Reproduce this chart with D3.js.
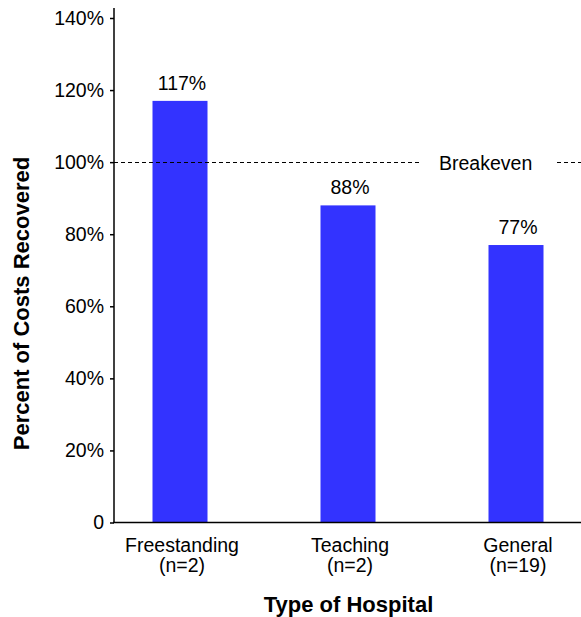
<!DOCTYPE html>
<html>
<head>
<meta charset="utf-8">
<script src="https://cdn.jsdelivr.net/npm/d3@7"></script>
<style>
  html, body { margin: 0; padding: 0; background: #fff; }
  svg { display: block; font-family: "Liberation Sans", Arial, Helvetica, sans-serif; }
</style>
</head>
<body>
<svg id="chart" width="581" height="617"></svg>
<script>
// Cost recovery by hospital type
const categories = ["Freestanding", "Teaching", "General"];
const sampleSizes = ["(n=2)", "(n=2)", "(n=19)"];
const percentRecovered = [117, 88, 77];
const yTicks = [0, 20, 40, 60, 80, 100, 120, 140];
const breakevenValue = 100;

const svg = d3.select("#chart");
const W = 581, H = 617;
const plotLeft = 114, plotBottom = 522.5, plotTop = 18;

const y = d3.scaleLinear().domain([0, 140]).range([plotBottom, plotTop]);
const x = d3.scaleBand().domain(categories).range([96, 600]).padding(0);
const barW = 55;
const cx = d => x(d) + x.bandwidth() / 2;

// bars
svg.append("g").selectAll("rect")
  .data(categories)
  .join("rect")
  .attr("x", d => cx(d) - barW / 2)
  .attr("y", (d, i) => y(percentRecovered[i]))
  .attr("width", barW)
  .attr("height", (d, i) => plotBottom - y(percentRecovered[i]))
  .attr("fill", "#3333ff");

// value labels
svg.append("g").selectAll("text")
  .data(categories)
  .join("text")
  .attr("x", d => cx(d) + 2)
  .attr("y", (d, i) => y(percentRecovered[i]) - 11)
  .attr("text-anchor", "middle")
  .attr("font-size", "19.5px")
  .attr("fill", "#000")
  .text((d, i) => percentRecovered[i] + "%");

// breakeven reference line, broken around its label
const by = Math.round(y(breakevenValue)) + 0.5;
const dashSegs = [[plotLeft, 420], [557, W]];
svg.append("g").selectAll("line")
  .data(dashSegs)
  .join("line")
  .attr("x1", d => d[0]).attr("x2", d => d[1])
  .attr("y1", by).attr("y2", by)
  .attr("stroke", "#000")
  .attr("stroke-width", 1)
  .attr("stroke-dasharray", "4,3");
svg.append("text")
  .attr("x", 439)
  .attr("y", by + 7)
  .attr("font-size", "19.5px")
  .attr("fill", "#000")
  .text("Breakeven");

// y axis
const yAxis = d3.axisLeft(y)
  .tickValues(yTicks)
  .tickSize(4)
  .tickSizeOuter(0)
  .tickPadding(6)
  .tickFormat(d => d === 0 ? "0" : d + "%");
const gy = svg.append("g")
  .attr("transform", `translate(${plotLeft},0)`)
  .call(yAxis);
gy.select(".domain").remove();
gy.selectAll(".tick line").attr("stroke", "#000").attr("stroke-width", 1.5);
gy.selectAll(".tick text")
  .attr("font-size", "19.5px")
  .attr("font-family", "Liberation Sans, Arial, sans-serif")
  .attr("fill", "#000");
svg.append("line")
  .attr("x1", plotLeft).attr("x2", plotLeft)
  .attr("y1", 8).attr("y2", plotBottom)
  .attr("stroke", "#000").attr("stroke-width", 1.5);

// x axis baseline
svg.append("line")
  .attr("x1", plotLeft - 1).attr("x2", W)
  .attr("y1", plotBottom).attr("y2", plotBottom)
  .attr("stroke", "#000").attr("stroke-width", 1.5);

// category labels
const catG = svg.append("g").selectAll("text")
  .data(categories)
  .join("text")
  .attr("text-anchor", "middle")
  .attr("font-size", "19.5px")
  .attr("fill", "#000");
catG.append("tspan")
  .attr("x", d => cx(d) + 2)
  .attr("y", 551.5)
  .text(d => d);
catG.append("tspan")
  .attr("x", d => cx(d) + 2)
  .attr("y", 572)
  .text((d, i) => sampleSizes[i]);

// axis titles
svg.append("text")
  .attr("x", 348.5)
  .attr("y", 611.5)
  .attr("text-anchor", "middle")
  .attr("font-size", "22px")
  .attr("font-weight", "bold")
  .attr("fill", "#000")
  .text("Type of Hospital");

svg.append("text")
  .attr("transform", "translate(29,303.5) rotate(-90)")
  .attr("text-anchor", "middle")
  .attr("font-size", "22px")
  .attr("font-weight", "bold")
  .attr("fill", "#000")
  .text("Percent of Costs Recovered");
</script>
</body>
</html>
